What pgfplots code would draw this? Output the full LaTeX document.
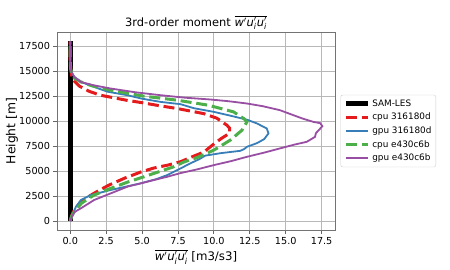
\documentclass[border=0pt]{standalone}
\usepackage{fontspec}
\setmainfont{DejaVu Sans}
\usepackage{amsmath}
\usepackage{pgfplots}
\pgfplotsset{compat=1.18}
\definecolor{cRed}{HTML}{E41A1C}
\definecolor{cBlue}{HTML}{377EB8}
\definecolor{cGreen}{HTML}{4DAF4A}
\definecolor{cPurple}{HTML}{984EA3}
\newcommand{\wuu}{\ensuremath{\overline{\textit{w}'\textit{u}'_{\textit{i}}\textit{u}'_{\textit{i}}}}}
\begin{document}
\begin{tikzpicture}
\useasboundingbox (0,0) rectangle (450bp,270bp);
\begin{axis}[
  at={(57bp,40bp)}, anchor=south west,
  scale only axis, width=278bp, height=198bp,
  xmin=-0.92, xmax=18.43, ymin=-900, ymax=18930,
  xtick={0,2.5,...,17.5}, ytick={0,2500,...,17500},
  scaled x ticks=false, scaled y ticks=false,
  xticklabel style={/pgf/number format/.cd, fixed, fixed zerofill, precision=1},
  yticklabel style={/pgf/number format/.cd, fixed, set thousands separator={}},
  /pgf/number format/assume math mode=true,
  ticklabel style={font=\fontsize{9.7}{11}\selectfont},
  tick align=outside, major tick length=3.5bp,
  tick style={black!60, line width=0.8bp},
  xtick pos=bottom, ytick pos=left,
  axis line style={black!55, line width=0.8bp},
  grid=major, major grid style={color=black!28, line width=0.8bp},
  every axis title shift=0pt,
  title={3rd-order moment \wuu},
  title style={font=\fontsize{11.5}{13}\selectfont, at={(axis description cs:0.5,1.03)}, anchor=base},
  xlabel={\wuu\ [m3/s3]},
  xlabel style={font=\fontsize{11.8}{13}\selectfont, at={(axis description cs:0.5,-0.152)}, anchor=base},
  ylabel={Height [m]},
  ylabel style={font=\fontsize{12.4}{14}\selectfont, at={(axis description cs:-0.150,0.5)}, anchor=base},
  legend style={at={(1.02,0.5)}, anchor=west, font=\fontsize{8.9}{10}\selectfont,
    draw=black!20, rounded corners=2pt, cells={anchor=west}, row sep=1.5bp, inner sep=2.5bp},
  legend image code/.code={\draw[#1] (0bp,0bp) -- (22bp,0bp);},
]
\addplot[black, line width=5bp, no marks] coordinates {(0,0) (0,18050)};
\addlegendentry{SAM-LES}
\addplot[cRed, line width=3bp, dash pattern=on 11bp off 4.8bp, no marks] coordinates {
(0,0) (0.05,300) (0.2,900) (0.5,1500) (1.0,2200) (1.8,2900) (2.7,3600) (3.8,4300) (4.9,4900) (5.8,5300) (6.8,5600) (7.7,5950) (8.6,6500) (9.3,6900) (9.9,7600) (10.5,8250) (11.1,8800) (11.1,9300) (10.9,9600) (10.2,10300) (9.3,10750) (8.6,10950) (7.5,11250) (6.0,11600) (5.0,11850) (3.9,12100) (3.0,12350) (2.1,12600) (1.3,13000) (0.65,13500) (0.3,14000) (0.1,14600) (0.03,15200) (0,16000) (0,18000)};
\addlegendentry{cpu 316180d}
\addplot[cBlue, line width=1.8bp, no marks] coordinates {
(0,0) (0.05,100) (0.2,800) (0.4,1430) (0.74,2100) (1.44,2600) (2.8,3100) (4.9,3770) (6.0,4200) (6.75,4600) (7.68,5270) (8.4,5800) (8.95,6170) (9.41,6550) (10.5,6800) (11.84,7030) (12.1,7200) (12.3,7430) (13.0,7800) (13.5,8200) (13.8,8770) (13.68,9270) (13.0,9770) (12.3,10150) (11.0,10600) (10.0,10930) (8.6,11300) (7.68,11700) (6.29,11930) (5.0,12250) (3.98,12600) (2.6,12950) (1.66,13430) (0.8,13900) (0.28,14430) (0.1,14900) (0.03,15300) (0,16000) (0,18000)};
\addlegendentry{gpu 316180d}
\addplot[cGreen, line width=3bp, dash pattern=on 11bp off 4.8bp, no marks] coordinates {
(0,0) (0.1,500) (0.28,930) (0.8,1800) (1.66,2600) (2.82,3270) (4.0,3900) (5.13,4430) (6.2,4950) (7.2,5430) (7.9,5900) (8.83,6350) (10.0,7100) (11.14,8100) (11.96,9100) (12.3,9930) (12.07,10270) (11.37,10930) (9.6,11600) (7.45,12100) (5.13,12500) (2.82,13100) (1.5,13550) (0.74,13930) (0.3,14300) (0.1,14800) (0.03,15300) (0,16000) (0,18000)};
\addlegendentry{cpu e430c6b}
\addplot[cPurple, line width=1.8bp, no marks] coordinates {
(0,0) (0.1,400) (0.3,900) (0.74,1270) (1.66,2100) (2.82,2770) (4.0,3450) (4.9,3770) (6.75,4430) (7.68,4800) (8.83,5170) (10.0,5600) (11.2,6000) (12.3,6430) (13.5,6850) (14.6,7270) (15.6,7650) (16.46,7930) (17.04,8430) (17.1,8800) (17.3,9100) (17.55,9500) (17.4,9800) (16.92,9930) (16.2,10250) (15.53,10600) (14.6,11100) (13.4,11500) (12.3,11770) (11.0,12000) (9.76,12170) (8.0,12350) (6.29,12600) (4.5,12900) (2.82,13270) (1.6,13600) (0.74,13930) (0.3,14400) (0.1,14900) (0.03,15300) (0,16000) (0,18000)};
\addlegendentry{gpu e430c6b}
\end{axis}
\end{tikzpicture}
\end{document}
